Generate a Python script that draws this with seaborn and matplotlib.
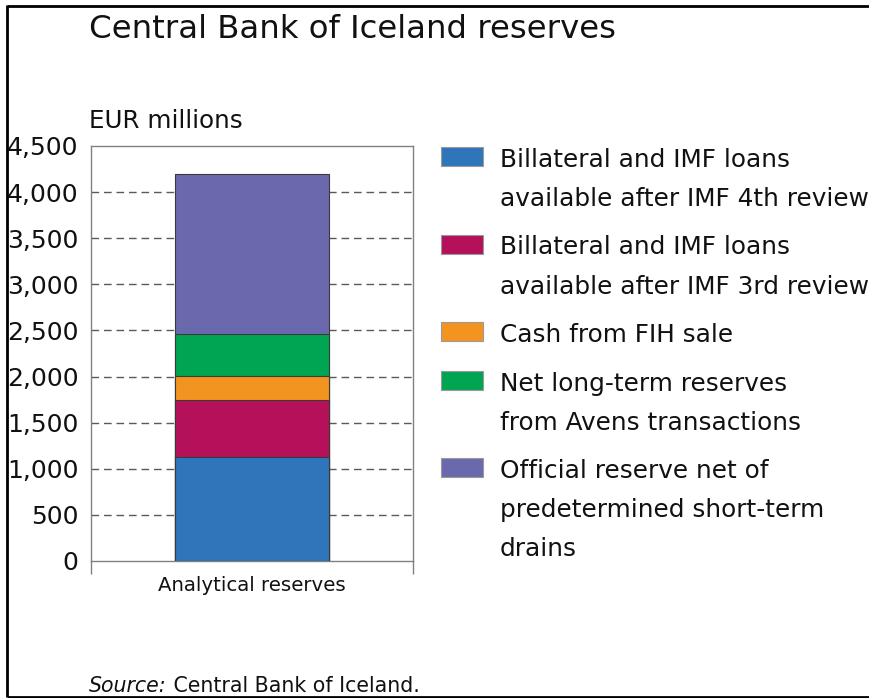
import numpy as np
import pandas as pd
import matplotlib
matplotlib.use("Agg")
import matplotlib.pyplot as plt
from matplotlib.patches import Rectangle
from matplotlib.lines import Line2D
import seaborn as sns

# ---------------- data ----------------
category = ["Analytical reserves"]
series_names = [
    "Billateral and IMF loans\navailable after IMF 4th review",
    "Billateral and IMF loans\navailable after IMF 3rd review",
    "Cash from FIH sale",
    "Net long-term reserves\nfrom Avens transactions",
    "Official reserve net of\npredetermined short-term\ndrains",
]
series_values = [1130, 620, 260, 450, 1740]
series_colors = ["#2E75BA", "#B5115A", "#F39420", "#00A551", "#6B69AE"]
y_ticks = [0, 500, 1000, 1500, 2000, 2500, 3000, 3500, 4000, 4500]
title = "Central Bank of Iceland reserves"
unit_label = "EUR millions"
source_prefix = "Source:"
source_text = " Central Bank of Iceland."

FONT = "DejaVu Sans"
sns.set_theme(style="white")
plt.rcParams["font.family"] = [FONT]
plt.rcParams["figure.edgecolor"] = "white"

W, H = 869, 698
fig = plt.figure(figsize=(W / 100, H / 100), dpi=100)
fig.patch.set_facecolor("white")
fig.patch.set_edgecolor("white")
fig.patch.set_linewidth(0)

def fx(x):
    return x / W

def fy(y):
    return 1 - y / H

ax_l, ax_r, ax_t, ax_b = 91, 413, 146, 561
ax = fig.add_axes([fx(ax_l), fy(ax_b), (ax_r - ax_l) / W, (ax_b - ax_t) / H])

# stacked bar: draw cumulative totals from the top segment down
tops = np.cumsum(series_values)
for i in range(len(series_values) - 1, -1, -1):
    df = pd.DataFrame({"cat": category, "val": [tops[i]]})
    sns.barplot(data=df, x="cat", y="val", color=series_colors[i], saturation=1,
                width=0.48, edgecolor="#3a3a3a", linewidth=0.8, ax=ax, zorder=3)

ax.set_xlim(-0.5, 0.5)
ax.set_ylim(0, 4500)
ax.set_xlabel("")
ax.set_ylabel("")

# grid
for v in y_ticks[1:-1]:
    ax.axhline(v, color="#5a5a5a", lw=1.0, ls=(0, (5.5, 3.5)), zorder=1)

for s in ax.spines.values():
    s.set_color("#808080")
    s.set_linewidth(1.0)
    s.set_visible(True)

ax.set_yticks(y_ticks)
ax.set_yticklabels([f"{v:,}" for v in y_ticks], fontsize=18, color="#111111")
ax.tick_params(axis="y", left=False, length=0, pad=9)

ax.set_xticks([-0.5, 0.5])
ax.set_xticklabels(["", ""])
ax.tick_params(axis="x", which="major", bottom=True, length=9.5, width=1.0,
               color="#808080", direction="out")
ax.set_xticks([0], minor=True)
ax.set_xticklabels(category, minor=True, fontsize=14.2, color="#111111")
ax.tick_params(axis="x", which="minor", bottom=True, length=0, pad=11)

# titles
fig.text(fx(89), fy(38), title, fontsize=23.3, color="#111111", ha="left", va="baseline")
fig.text(fx(89), fy(128), unit_label, fontsize=17.7, color="#111111", ha="left", va="baseline")

# source
t = fig.text(fx(89), fy(692), source_prefix, fontsize=14.8, style="italic",
             color="#111111", ha="left", va="baseline")
fig.canvas.draw()
bb = t.get_window_extent()
fig.text(bb.x1 / W, fy(692), source_text, fontsize=14.8, color="#111111",
         ha="left", va="baseline")

# legend (manual)
line_h = 39
gap = 9.5
y0 = 167  # baseline of first line
for name, col in zip(series_names, series_colors):
    lines = name.split("\n")
    fig.patches.append(Rectangle((fx(441), fy(y0 - 1)), 42 / W, 19 / H,
                                 transform=fig.transFigure, facecolor=col,
                                 edgecolor="#9a9a9a", linewidth=0.8))
    for k, ln in enumerate(lines):
        fig.text(fx(500), fy(y0 + k * line_h), ln, fontsize=17.8, color="#111111",
                 ha="left", va="baseline")
    y0 += len(lines) * line_h + gap

# frame (top, left, bottom only)
kw = dict(color="black", lw=2, transform=fig.transFigure, solid_capstyle="butt")
fig.add_artist(Line2D([fx(7), 1], [fy(5.5), fy(5.5)], **kw))
fig.add_artist(Line2D([fx(7), fx(7)], [fy(5), fy(697)], **kw))
fig.add_artist(Line2D([fx(7), 1], [fy(696.5), fy(696.5)], **kw))

fig.savefig("out.png", dpi=100)
